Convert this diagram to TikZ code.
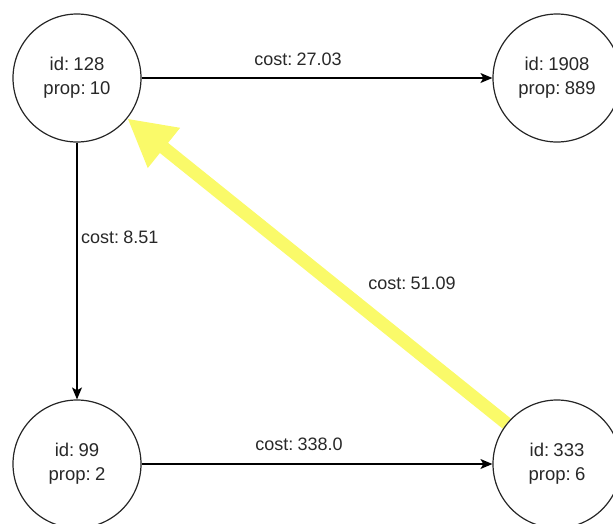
\documentclass[tikz,border=0pt]{standalone}
\usepackage{fontspec}
\setmainfont[WordSpace=0.5]{Liberation Sans}
\usetikzlibrary{arrows.meta}
\pgfdeclarelayer{background}
\pgfsetlayers{background,main}
\definecolor{hl}{RGB}{250,250,105}
\definecolor{txt}{RGB}{40,40,40}
\tikzset{
  vert/.style={circle, draw=black!85, line width=1.2pt, minimum size=128pt, inner sep=0pt, align=center, font=\fontsize{18.5}{24}\selectfont, text=txt},
  edge/.style={draw=black, line width=1.2pt, -{Stealth[length=12pt,width=10pt,inset=3pt]}},
  lbl/.style={font=\fontsize{18}{22}\selectfont, text=txt, inner sep=0pt},
  hot/.style={draw=hl, line width=13pt, -{Triangle[length=47pt,width=48pt]}}
}
\begin{document}
\begin{tikzpicture}[x=1pt,y=-1pt]
\useasboundingbox (0,0) rectangle (613,523);
\clip (0,0) rectangle (613,523);
\node[vert] (tl) at (77,78) {id: 128\\prop: 10};
\node[vert] (tr) at (557,78) {id: 1908\\prop: 889};
\node[vert] (bl) at (77,464) {id: 99\\prop: 2};
\node[vert] (br) at (557,464) {id: 333\\prop: 6};
\begin{pgfonlayer}{background}
\draw[hot] (br) -- (tl);
\end{pgfonlayer}
\draw[edge] (tl) -- (tr);
\draw[edge] (tl) -- (bl);
\draw[edge] (bl) -- (br);
\node[lbl] (l1) at (298,59) {cost: 27.03};
\node[lbl, anchor=west] (l2) at (81,237) {cost: 8.51};
\node[lbl] (l3) at (299,444) {cost: 338.0};
\node[lbl] (l4) at (412,283) {cost: 51.09};
\end{tikzpicture}
\end{document}
